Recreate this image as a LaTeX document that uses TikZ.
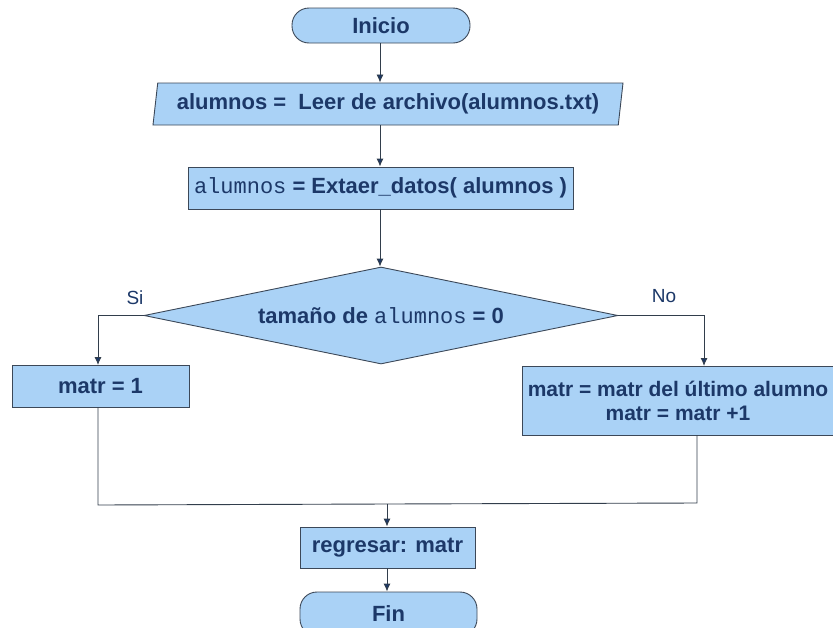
\documentclass[tikz,border=0pt]{standalone}
\usepackage{fontspec}
\setmainfont{Liberation Sans}
\setmonofont{Liberation Mono}
\usetikzlibrary{arrows.meta,shapes.geometric,calc}
\definecolor{boxfill}{RGB}{170,210,246}
\definecolor{boxline}{RGB}{60,72,88}
\definecolor{txt}{RGB}{28,56,104}
\definecolor{conn}{RGB}{50,62,76}
\tikzset{
  base/.style={draw=boxline, fill=boxfill, line width=0.9pt, text=txt,
    font=\fontsize{22}{25}\selectfont\bfseries, inner sep=0pt, align=center},
  proc/.style={base, rectangle},
  term/.style={base, rectangle, rounded corners=17pt},
  io/.style={base, trapezium, trapezium left angle=77, trapezium right angle=103,
    trapezium stretches body},
  dec/.style={base, diamond, aspect=4.87},
  conn/.style={draw=conn, line width=0.9pt},
  arr/.style={conn, -{Latex[length=8pt,width=7pt,fill=txt]}},
  lbl/.style={text=txt, font=\fontsize{19}{22}\selectfont}
}
\newcommand{\mono}[1]{{\ttfamily\mdseries #1}}
\begin{document}
\begin{tikzpicture}[x=1pt,y=-1pt]
\useasboundingbox (0,0) rectangle (833,627);
\node[term, minimum width=178pt, minimum height=35pt] (inicio) at (381,25.5) {Inicio};
\node[io, minimum width=470pt, minimum height=42pt] (leer) at (388,104) {alumnos =\ \ Leer de archivo(alumnos.txt)};
\node[proc, minimum width=385pt, minimum height=42pt] (extr) at (380.5,188) {\mono{alumnos} = Extaer\_datos( alumnos )};
\node[dec, minimum width=474pt, minimum height=97pt] (cond) at (381,315.5) {tamaño de \mono{alumnos} = 0};
\node[proc, minimum width=177pt, minimum height=42pt] (m1) at (100.5,386) {matr = 1};
\node[proc, minimum width=312pt, minimum height=69pt, font=\fontsize{21}{24}\selectfont\bfseries] (m2) at (678,400.5) {matr = matr del último alumno\\matr = matr +1};
\node[proc, minimum width=175pt, minimum height=41pt] (reg) at (387.5,547.5) {regresar: matr};
\node[term, minimum width=177pt, minimum height=44pt] (fin) at (388.5,614) {Fin};
\coordinate (m1in) at (98,365);
\coordinate (m1out) at (98,407);
\coordinate (m2in) at (704,366);
\coordinate (m2out) at (697,435);
\coordinate (lj) at (98,505);
\coordinate (rj) at (697,503);
\coordinate (mj) at (387,504);
\draw[arr] (380,0 |- inicio.south) -- (380,0 |- leer.north);
\draw[arr] (380,0 |- leer.south) -- (380,0 |- extr.north);
\draw[arr] (380,0 |- extr.south) -- (380,0 |- cond.north);
\draw[arr] (cond.west) -| (m1in);
\draw[arr] (cond.east) -| (m2in);
\node[lbl] (si) at (135,298) {Si};
\node[lbl] (no) at (664,296) {No};
\draw[conn] (m1out) -- (lj) -- (mj);
\draw[conn] (m2out) -- (rj) -- (mj);
\draw[arr] (mj) -- (mj |- reg.north);
\draw[arr] (mj |- reg.south) -- (mj |- fin.north);
\end{tikzpicture}
\end{document}
